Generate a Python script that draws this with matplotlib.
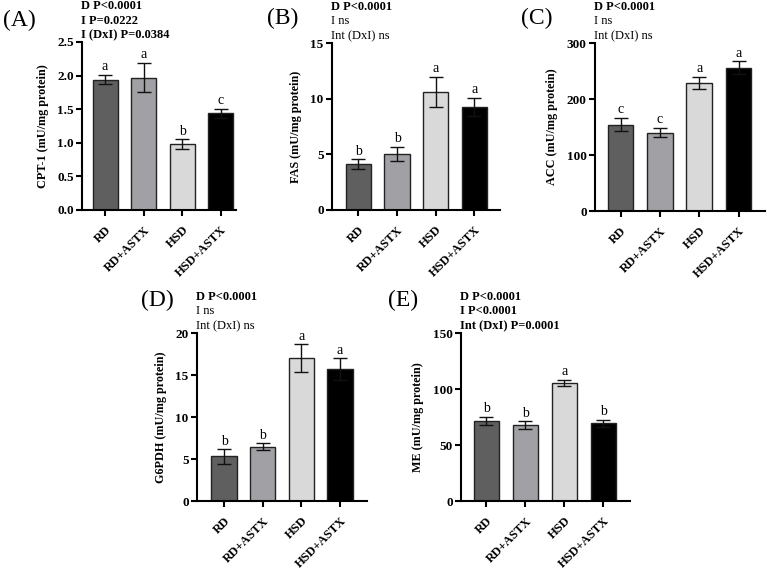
import numpy as np
import matplotlib
matplotlib.use("Agg")
import matplotlib.pyplot as plt

plt.rcParams['font.family'] = ['Liberation Serif', 'DejaVu Serif']

groups = ["RD", "RD+ASTX", "HSD", "HSD+ASTX"]
colors = ["#5f5f5f", "#a1a1a5", "#d9d9d9", "#000000"]

cpt1 = [1.94, 1.97, 0.98, 1.44]
cpt1_err = [0.07, 0.22, 0.07, 0.07]
cpt1_let = ["a", "a", "b", "c"]

fas = [4.1, 5.05, 10.6, 9.25]
fas_err = [0.45, 0.65, 1.35, 0.8]
fas_let = ["b", "b", "a", "a"]

acc = [154, 140, 229, 256]
acc_err = [12, 8, 11, 11]
acc_let = ["c", "c", "a", "a"]

g6pdh = [5.3, 6.45, 17.0, 15.7]
g6pdh_err = [0.85, 0.4, 1.65, 1.3]
g6pdh_let = ["b", "b", "a", "a"]

me = [71.5, 67.5, 105.5, 69.5]
me_err = [3.5, 3.5, 2.5, 3.0]
me_let = ["b", "b", "a", "b"]

W, H = 767, 570

panels = [
    # label, ylabel, values, err, letters, ymax, yticks, fmt, axes box px (l, t, r, b),
    # stats lines, bold flags, xlim, panel-letter position px
    ("(A)", "CPT-1 (mU/mg protein)", cpt1, cpt1_err, cpt1_let, 2.5, np.arange(0, 2.51, 0.5), "%.1f",
     (82, 42, 236, 210), ["D P<0.0001", "I P=0.0222", "I (DxI) P=0.0384"], [True, True, True],
     (-0.6, 3.4), (3, 20)),
    ("(B)", "FAS (mU/mg protein)", fas, fas_err, fas_let, 15, [0, 5, 10, 15], "%d",
     (332, 43, 500, 210), ["D P<0.0001", "I ns", "Int (DxI) ns"], [True, False, False],
     (-0.68, 3.66), (267, 18)),
    ("(C)", "ACC (mU/mg protein)", acc, acc_err, acc_let, 300, [0, 100, 200, 300], "%d",
     (595, 43, 765, 211), ["D P<0.0001", "I ns", "Int (DxI) ns"], [True, False, False],
     (-0.65, 3.67), (521, 18)),
    ("(D)", "G6PDH (mU/mg protein)", g6pdh, g6pdh_err, g6pdh_let, 20, [0, 5, 10, 15, 20], "%d",
     (197, 333, 367, 501), ["D P<0.0001", "I ns", "Int (DxI) ns"], [True, False, False],
     (-0.7, 3.7), (141, 300)),
    ("(E)", "ME (mU/mg protein)", me, me_err, me_let, 150, [0, 50, 100, 150], "%d",
     (461, 333, 630, 501), ["D P<0.0001", "I P<0.0001", "Int (DxI) P=0.0001"], [True, True, True],
     (-0.65, 3.68), (388, 300)),
]

fig = plt.figure(figsize=(W / 100, H / 100), dpi=100)

for lab, ylab, vals, errs, lets, ymax, yt, fmt, box, stats, bolds, xl, lpos in panels:
    l, t, r, b = box
    ax = fig.add_axes([l / W, 1 - b / H, (r - l) / W, (b - t) / H])
    x = np.arange(len(groups))
    ax.bar(x, vals, width=0.65, color=colors, edgecolor="#222222", linewidth=1.0, zorder=2)
    ax.errorbar(x, vals, yerr=errs, fmt="none", ecolor="#111111", elinewidth=1.0,
                capsize=5, capthick=1.0, zorder=3)
    for xi, v, e, s in zip(x, vals, errs, lets):
        ax.text(xi, v + e + ymax * 0.01, s, ha="center", va="bottom", fontsize=10)
    ax.set_ylim(0, ymax)
    ax.set_xlim(*xl)
    ax.set_yticks(yt)
    ax.set_yticklabels([fmt % v for v in yt], fontweight="bold", fontsize=9.5)
    ax.set_xticks(x)
    ax.set_xticklabels(groups, rotation=45, ha="right", rotation_mode="anchor",
                       fontweight="bold", fontsize=9)
    ax.set_ylabel(ylab, fontweight="bold", fontsize=8.7, labelpad=6)
    for sp in ["top", "right"]:
        ax.spines[sp].set_visible(False)
    for sp in ["left", "bottom"]:
        ax.spines[sp].set_linewidth(1.5)
    ax.tick_params(axis="y", width=1.5, length=4, direction="out", pad=2)
    ax.tick_params(axis="x", width=1.5, length=4, direction="out", pad=6)
    ax.patch.set_visible(False)
    # panel letter
    fig.text(lpos[0] / W, 1 - lpos[1] / H, lab, fontsize=17, ha="left", va="center")
    for i, (s, bf) in enumerate(zip(stats, bolds)):
        fig.text((l - 1) / W, 1 - (t - 36 + i * 14.5) / H, s, fontsize=9,
                 fontweight="bold" if bf else "normal", ha="left", va="center")

fig.savefig("out.png", dpi=100)
